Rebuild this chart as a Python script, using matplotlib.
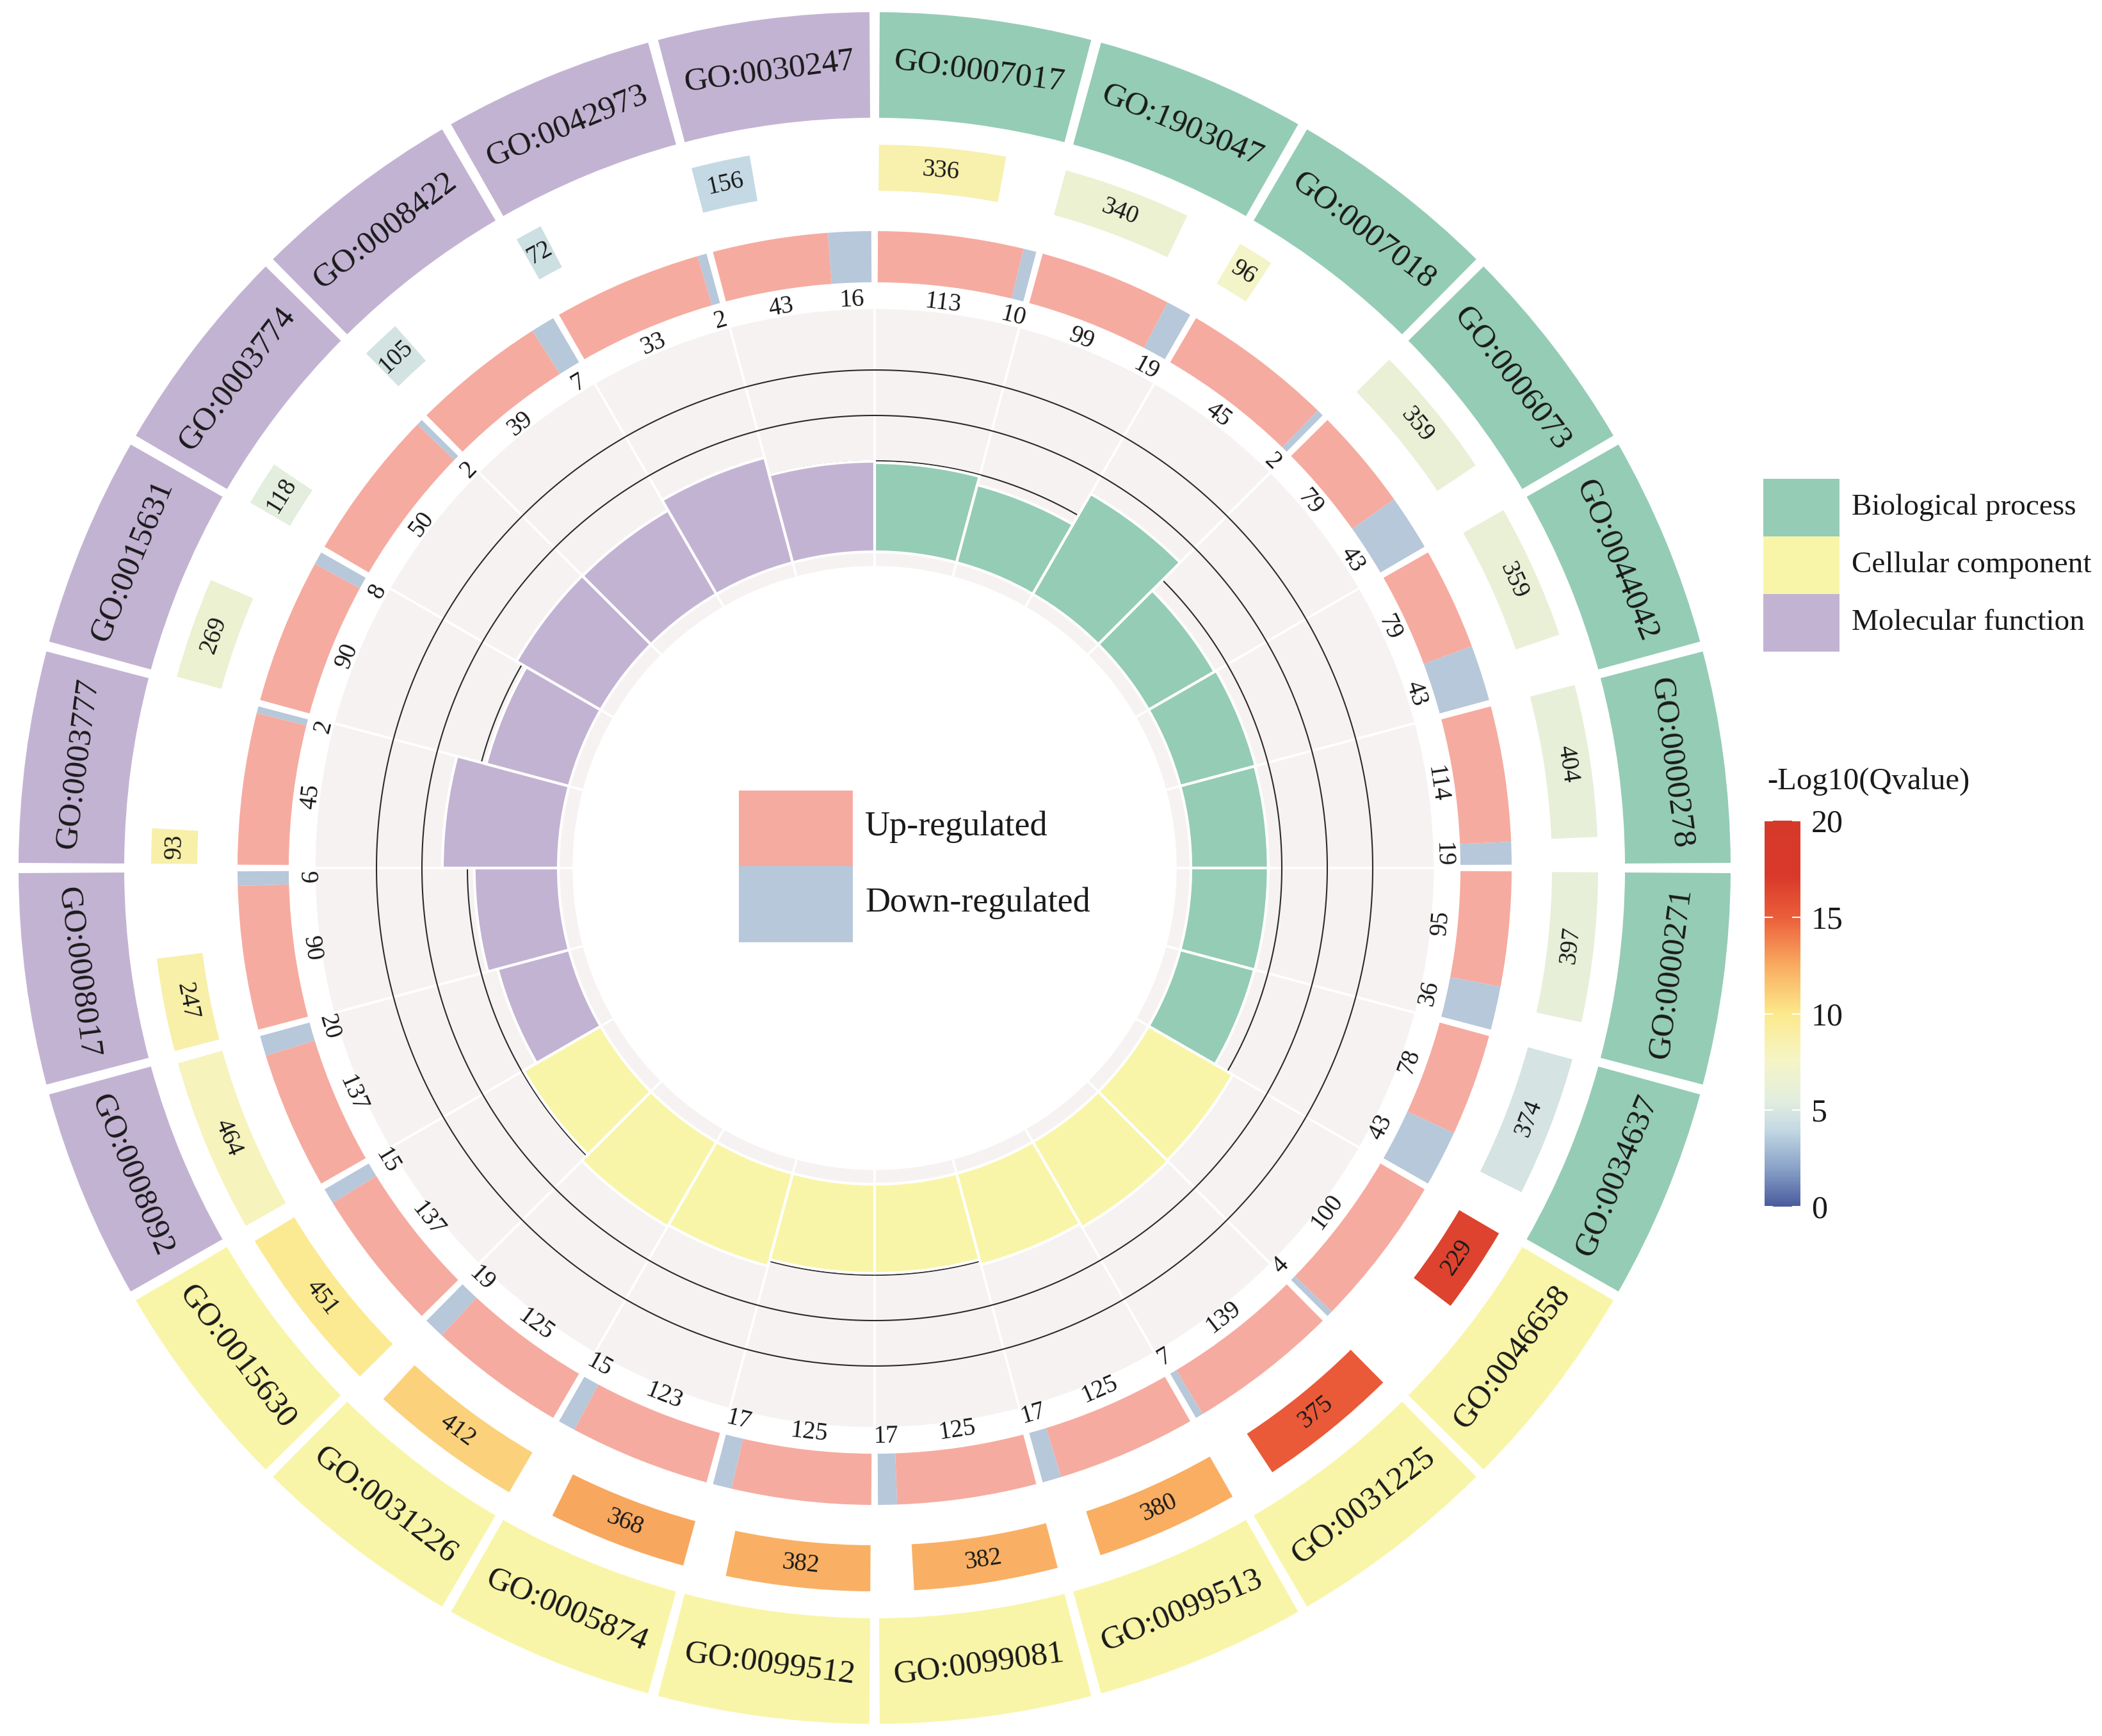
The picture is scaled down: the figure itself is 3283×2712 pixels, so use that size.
import numpy as np
import matplotlib
matplotlib.use("Agg")
import matplotlib.pyplot as plt
from matplotlib.colors import LinearSegmentedColormap, Normalize
from matplotlib.cm import ScalarMappable
from matplotlib.patches import Rectangle

plt.rcParams['font.family'] = ['Liberation Serif', 'DejaVu Serif']

# GO terms, clockwise from 12 o'clock
go_terms = ['GO:0007017', 'GO:1903047', 'GO:0007018', 'GO:0006073',
            'GO:0044042', 'GO:0000278', 'GO:0000271', 'GO:0034637',
            'GO:0046658', 'GO:0031225', 'GO:0099513', 'GO:0099081',
            'GO:0099512', 'GO:0005874', 'GO:0031226', 'GO:0015630',
            'GO:0008092', 'GO:0008017', 'GO:0003777', 'GO:0015631',
            'GO:0003774', 'GO:0008422', 'GO:0042973', 'GO:0030247']
category = ['BP'] * 8 + ['CC'] * 8 + ['MF'] * 8
gene_count = [336, 340, 96, 359, 359, 404, 397, 374,
              229, 375, 380, 382, 382, 368, 412, 451,
              464, 247, 93, 269, 118, 105, 72, 156]
neg_log_q = [8.6, 6.6, 7.4, 6.2, 6.2, 6.0, 6.0, 4.8,
             16.6, 15.2, 12.4, 12.3, 12.3, 12.6, 11.0, 9.8,
             8.0, 8.8, 8.8, 6.6, 5.6, 4.7, 4.4, 4.0]
up_genes = [113, 99, 45, 79, 79, 114, 95, 78,
            100, 139, 125, 125, 125, 123, 125, 137,
            137, 90, 45, 90, 50, 39, 33, 43]
down_genes = [10, 19, 2, 43, 43, 19, 36, 43,
              4, 7, 17, 17, 17, 15, 19, 15,
              20, 9, 2, 8, 2, 7, 2, 16]
rich_value = [1.96, 1.77, 2.55, 1.68, 1.72, 1.70, 1.70, 1.69,
              2.14, 2.17, 2.08, 1.96, 1.96, 2.11, 2.15, 1.96,
              1.63, 1.85, 2.55, 1.89, 2.14, 2.13, 2.39, 1.99]
grid_values = [2, 3, 4]

cat_colors = {'BP': '#95ccb6', 'CC': '#f9f5a8', 'MF': '#c3b3d3'}
cat_labels = [('BP', 'Biological process'), ('CC', 'Cellular component'),
              ('MF', 'Molecular function')]
up_color = '#f6aba0'
down_color = '#b7c8da'
bg_gray = '#f6f2f2'
txt_color = '#1a1a1a'

q_cmap = LinearSegmentedColormap.from_list('qval', [
    (0.0, '#4a5c9e'), (0.1, '#8aa3c8'), (0.2, '#c4d9e4'), (0.27, '#e2ede0'),
    (0.38, '#f5f5c5'), (0.5, '#fce98c'), (0.62, '#f9ae62'),
    (0.75, '#ec5e3a'), (0.86, '#d8392a'), (1.0, '#d6392a')])
q_norm = Normalize(0, 20)

W, H = 3283, 2712
cx, cy, R = 1366, 1356, 1345
fig = plt.figure(figsize=(W / 100, H / 100), dpi=100)
ax = fig.add_axes([(cx - R) / W, (H - cy - R) / H, 2 * R / W, 2 * R / H],
                  projection='polar')
ax.set_theta_zero_location('N')
ax.set_theta_direction(-1)
ax.set_ylim(0, R)
ax.set_axis_off()

n = len(go_terms)
sec = 2 * np.pi / n
starts = np.arange(n) * sec
colors = [cat_colors[c] for c in category]


def tangent_rot(theta):
    d = np.degrees(theta) % 360
    return -d if (d <= 90 or d >= 270) else 180 - d


def ring_text(theta, r, s, size):
    ax.text(theta, r, s, rotation=tangent_rot(theta), rotation_mode='anchor',
            ha='center', va='center', fontsize=size, color=txt_color, zorder=6)


# background ring
ax.bar(starts, 405, width=sec, bottom=470, align='edge', color=bg_gray,
       edgecolor='white', linewidth=2.5, zorder=1)

# grid circles
base, unit = 494, 71
tt = np.linspace(0, 2 * np.pi, 721)
for v in grid_values:
    ax.plot(tt, np.full_like(tt, base + v * unit), color='#2b2b2b', lw=1.5, zorder=2)

# inner bars
ax.bar(starts, np.array(rich_value) * unit, width=sec, bottom=base, align='edge',
       color=colors, edgecolor='white', linewidth=3, zorder=3)

# up / down ring
up = np.array(up_genes, dtype=float)
down = np.array(down_genes, dtype=float)
g = 10 / 955
up_w = (sec - g) * up / (up + down)
down_w = (sec - g) * down / (up + down)
ax.bar(starts + g / 2, 80, width=up_w, bottom=915, align='edge', color=up_color,
       linewidth=0, zorder=3)
ax.bar(starts + g / 2 + up_w, 80, width=down_w, bottom=915, align='edge',
       color=down_color, linewidth=0, zorder=3)
for i in range(n):
    ring_text(starts[i] + g / 2 + up_w[i] / 2, 888, str(up_genes[i]), 28)
    ring_text(starts[i] + g / 2 + up_w[i] + down_w[i] / 2, 888, str(down_genes[i]), 28)

# gene count boxes coloured by -log10(q)
go_gap = 15 / 1255
cnt = np.array(gene_count, dtype=float)
box_w = cnt / cnt.max() * np.deg2rad(14)
ax.bar(starts + go_gap / 2, 72, width=box_w, bottom=1058, align='edge',
       color=q_cmap(q_norm(neg_log_q)), linewidth=0, zorder=3)
for i in range(n):
    ring_text(starts[i] + go_gap / 2 + box_w[i] / 2, 1094, str(gene_count[i]), 28)

# outer GO id ring
ax.bar(starts + go_gap / 2, 165, width=sec - go_gap, bottom=1172, align='edge',
       color=colors, linewidth=0, zorder=3)
for i in range(n):
    ring_text(starts[i] + sec / 2, 1255, go_terms[i], 37)

# legends (overlay in pixel coordinates)
lax = fig.add_axes([0, 0, 1, 1])
lax.set_xlim(0, W)
lax.set_ylim(H, 0)
lax.axis('off')
lax.patch.set_alpha(0)

lax.add_patch(Rectangle((1154, 1235), 178, 118, color=up_color, lw=0))
lax.add_patch(Rectangle((1154, 1353), 178, 119, color=down_color, lw=0))
lax.text(1351, 1292, 'Up-regulated', fontsize=39, va='center', ha='left', color=txt_color)
lax.text(1351, 1411, 'Down-regulated', fontsize=39, va='center', ha='left', color=txt_color)

for k, (key, name) in enumerate(cat_labels):
    y0 = 748 + k * 90
    lax.add_patch(Rectangle((2754, y0), 119, 90, color=cat_colors[key], lw=0))
    lax.text(2892, y0 + 45, name, fontsize=34, va='center', ha='left', color=txt_color)

lax.text(2760, 1221, '-Log10(Qvalue)', fontsize=35, va='center', ha='left', color=txt_color)

# colour bar
cax = fig.add_axes([2756 / W, (H - 1885) / H, 56 / W, 603 / H])
cb = fig.colorbar(ScalarMappable(norm=q_norm, cmap=q_cmap), cax=cax,
                  ticks=[0, 5, 10, 15, 20])
cb.outline.set_visible(False)
cax.tick_params(labelsize=36, length=0, pad=12, labelcolor=txt_color)
for t in [0, 5, 10, 15, 20]:
    cax.axhline(t, xmin=0, xmax=0.22, color='white', lw=1.5)
    cax.axhline(t, xmin=0.78, xmax=1, color='white', lw=1.5)

fig.savefig('out.png', dpi=100, facecolor='white')
